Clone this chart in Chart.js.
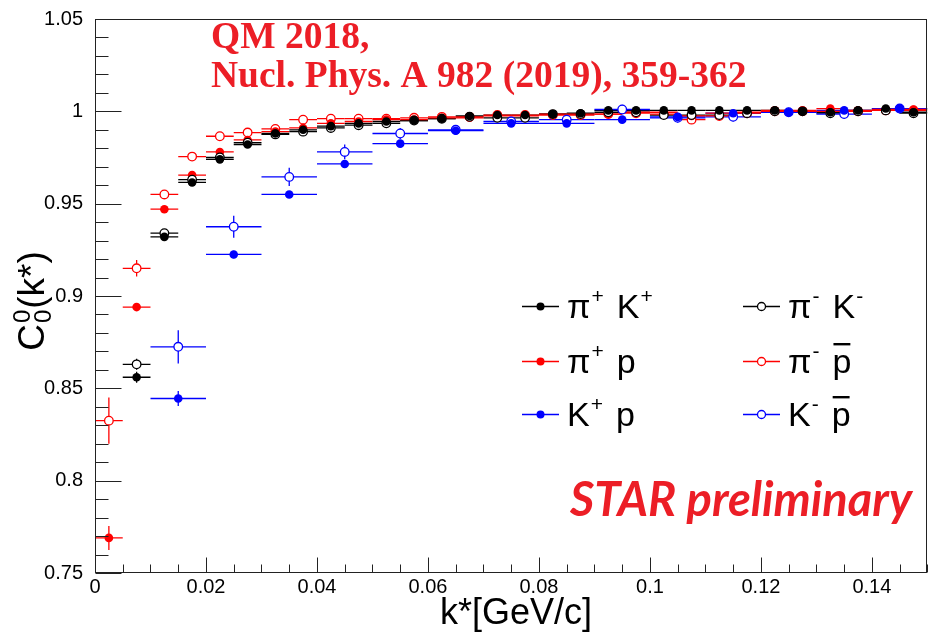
<!DOCTYPE html>
<html>
<head>
<meta charset="utf-8">
<script src="https://cdn.jsdelivr.net/npm/chart.js@4.4.1/dist/chart.umd.min.js"></script>
<style>
  html, body { margin: 0; padding: 0; background: #fff; }
  #wrap { width: 933px; height: 635px; }
</style>
</head>
<body>
<div id="wrap"><canvas id="myChart" width="933" height="635"></canvas></div>
<script>
// k* bin centres (GeV/c): 5 MeV bins for pi-K / pi-p, 10 MeV bins for K-p
const kFine = [0.0025, 0.0075, 0.0125, 0.0175, 0.0225, 0.0275, 0.0325, 0.0375, 0.0425, 0.0475,
               0.0525, 0.0575, 0.0625, 0.0675, 0.0725, 0.0775, 0.0825, 0.0875, 0.0925, 0.0975,
               0.1025, 0.1075, 0.1125, 0.1175, 0.1225, 0.1275, 0.1325, 0.1375, 0.1425, 0.1475];
const kCoarse = [0.015, 0.025, 0.035, 0.045, 0.055, 0.065, 0.075, 0.085, 0.095, 0.105,
                 0.115, 0.125, 0.135, 0.145];

const piPlusKPlus = [null, 0.856, 0.932, 0.9615, 0.974, 0.982, 0.988, 0.990, 0.992, 0.9935,
                     0.9945, 0.995, 0.996, 0.9975, 0.998, 0.998, 0.9985, 0.999, 1.0005, 1.0005,
                     1.0005, 1.0005, 1.0005, 1.0005, 1.0005, 1.000, 0.9995, 1.0005, 1.0015, 0.9995];
const piPlusKPlusErr = [0, 0.003, 0.0015, 0.001, 0.001, 0.001, 0.001, 0.001, 0.001, 0.001,
                        0.001, 0.001, 0.001, 0.001, 0.001, 0.001, 0.001, 0.001, 0.001, 0.001,
                        0.001, 0.001, 0.001, 0.001, 0.001, 0.001, 0.001, 0.001, 0.001, 0.001];

const piMinusKMinus = [null, 0.863, 0.934, 0.963, 0.975, 0.983, 0.9875, 0.989, 0.991, 0.9925,
                       0.9935, 0.995, 0.996, 0.997, 0.9965, 0.9965, 0.9985, 0.9985, 0.9995, 0.9995,
                       0.998, 0.998, 0.998, 0.999, 1.000, 1.000, 0.999, 1.000, 1.0005, 0.999];
const piMinusKMinusErr = [0, 0.003, 0.0015, 0.001, 0.001, 0.001, 0.001, 0.001, 0.001, 0.001,
                          0.001, 0.001, 0.001, 0.001, 0.001, 0.001, 0.001, 0.001, 0.001, 0.001,
                          0.001, 0.001, 0.001, 0.001, 0.001, 0.001, 0.001, 0.001, 0.001, 0.001];

const piPlusP = [0.769, 0.894, 0.947, 0.9655, 0.978, 0.9845, 0.989, 0.991, 0.9935, 0.9945,
                 0.9955, 0.9955, 0.9965, 0.9965, 0.9975, 0.9975, 0.9985, 0.9985, 0.9985, 0.9995,
                 0.9995, 0.9975, 0.999, 0.9995, 1.0005, 1.0005, 1.0015, 1.0005, 1.001, 1.001];
const piPlusPErr = [0.0065, 0.002, 0.0015, 0.001, 0.001, 0.001, 0.001, 0.001, 0.001, 0.001,
                    0.001, 0.001, 0.001, 0.001, 0.001, 0.001, 0.001, 0.001, 0.001, 0.001,
                    0.001, 0.001, 0.001, 0.001, 0.001, 0.001, 0.001, 0.001, 0.001, 0.001];

const piMinusPbar = [0.8325, 0.915, 0.955, 0.9755, 0.9865, 0.9885, 0.9905, 0.9955, 0.996, 0.996,
                     0.996, 0.9965, 0.997, 0.997, 0.998, 0.998, 0.998, 0.998, 0.9985, 0.999,
                     0.9985, 0.9955, 0.9975, 0.999, 1.000, 1.000, 1.000, 1.000, 1.0005, 1.0005];
const piMinusPbarErr = [0.0125, 0.0045, 0.002, 0.0015, 0.0012, 0.001, 0.001, 0.001, 0.001, 0.001,
                        0.001, 0.001, 0.001, 0.001, 0.001, 0.001, 0.001, 0.001, 0.001, 0.001,
                        0.001, 0.001, 0.001, 0.001, 0.001, 0.001, 0.001, 0.001, 0.001, 0.001];

const kPlusP = [0.8445, 0.9225, 0.955, 0.9715, 0.9825, 0.9895, 0.9935, 0.9935, 0.9955, 0.997,
                0.999, 0.9995, 1.0005, 1.0015];
const kPlusPErr = [0.004, 0.002, 0.0015, 0.0012, 0.001, 0.001, 0.001, 0.001, 0.001, 0.001,
                   0.001, 0.001, 0.001, 0.001];

const kMinusPbar = [0.8725, 0.9375, 0.9645, 0.978, 0.988, 0.990, 0.9945, 0.9955, 1.001, 0.9965,
                    0.997, 0.9995, 0.9985, 1.0015];
const kMinusPbarErr = [0.009, 0.006, 0.005, 0.004, 0.003, 0.0025, 0.0025, 0.0025, 0.0025, 0.0025,
                       0.0025, 0.0025, 0.0025, 0.0025];

const xTicks = [0, 0.02, 0.04, 0.06, 0.08, 0.1, 0.12, 0.14];
const yTicks = [0.75, 0.8, 0.85, 0.9, 0.95, 1, 1.05];

const RED = '#ff0000', BLUE = '#0000ff', BLACK = '#000000';
const TEXT_RED = 'rgb(236,30,38)';
const SANS = '"Liberation Sans", Arial, sans-serif';

function makeSet(label, xs, ys, errs, halfWidth, color, open) {
  const pts = [];
  xs.forEach((x, i) => {
    if (ys[i] === null) return;
    pts.push({ x: x, y: ys[i], ex: halfWidth, ey: errs[i] });
  });
  return {
    label: label,
    data: pts,
    showLine: false,
    pointStyle: 'circle',
    pointRadius: 4.3,
    pointBorderWidth: open ? 1.3 : 0,
    borderColor: color,
    pointBorderColor: color,
    pointBackgroundColor: open ? '#ffffff' : color,
    errColor: color
  };
}

const datasets = [
  makeSet('pi+ K+', kFine, piPlusKPlus, piPlusKPlusErr, 0.0025, BLACK, false),
  makeSet('pi- K-', kFine, piMinusKMinus, piMinusKMinusErr, 0.0025, BLACK, true),
  makeSet('K+ p', kCoarse, kPlusP, kPlusPErr, 0.005, BLUE, false),
  makeSet('K- pbar', kCoarse, kMinusPbar, kMinusPbarErr, 0.005, BLUE, true),
  makeSet('pi+ p', kFine, piPlusP, piPlusPErr, 0.0025, RED, false),
  makeSet('pi- pbar', kFine, piMinusPbar, piMinusPbarErr, 0.0025, RED, true)
];

// error bars (bin width in x, stat. error in y), drawn under the markers
const errorBars = {
  id: 'errorBars',
  beforeDatasetsDraw(chart) {
    const ctx = chart.ctx, xs = chart.scales.x, ys = chart.scales.y;
    const area = chart.chartArea;
    ctx.save();
    ctx.beginPath();
    ctx.rect(area.left, area.top, area.right - area.left, area.bottom - area.top);
    ctx.clip();
    ctx.lineWidth = 1.3;
    chart.data.datasets.forEach(ds => {
      ctx.strokeStyle = ds.errColor;
      ds.data.forEach(p => {
        const px = xs.getPixelForValue(p.x), py = ys.getPixelForValue(p.y);
        ctx.beginPath();
        ctx.moveTo(xs.getPixelForValue(p.x - p.ex), py);
        ctx.lineTo(xs.getPixelForValue(p.x + p.ex), py);
        ctx.moveTo(px, ys.getPixelForValue(p.y - p.ey));
        ctx.lineTo(px, ys.getPixelForValue(p.y + p.ey));
        ctx.stroke();
      });
    });
    ctx.restore();
  }
};

// draws a run of [text, superscript] pairs, returns where each text starts
function drawScript(ctx, pairs, x, base) {
  const big = '34px ' + SANS, small = '21px ' + SANS;
  const starts = [];
  pairs.forEach(([t, sup]) => {
    ctx.font = big;
    starts.push(x);
    ctx.fillText(t, x, base);
    x += ctx.measureText(t).width + 1;
    ctx.font = small;
    ctx.fillText(sup, x, base - 15);
    x += ctx.measureText(sup).width + 13;
  });
  return starts;
}

// frame, inward ticks, axis titles, legend and annotations
const decorations = {
  id: 'decorations',
  afterDraw(chart) {
    const ctx = chart.ctx, xs = chart.scales.x, ys = chart.scales.y;
    const a = chart.chartArea;
    const L = Math.round(a.left) + 0.5, R = Math.round(a.right) - 0.5;
    const T = Math.round(a.top) + 0.5, B = Math.round(a.bottom) - 0.5;
    ctx.save();
    ctx.strokeStyle = '#222';
    ctx.lineWidth = 1;
    ctx.strokeRect(L, T, R - L, B - T);

    ctx.beginPath();
    for (let i = 0; i <= 30; i++) {
      const v = 0.75 + i * 0.01;
      const y = Math.round(ys.getPixelForValue(v)) + 0.5;
      const len = (i % 5 === 0) ? 26 : 13;
      ctx.moveTo(L, y); ctx.lineTo(L + len, y);
    }
    for (let i = 0; i <= 30; i++) {
      const v = i * 0.005;
      const x = Math.round(xs.getPixelForValue(v)) + 0.5;
      const len = (i % 4 === 0) ? 15 : 8;
      ctx.moveTo(x, B); ctx.lineTo(x, B - len);
    }
    ctx.stroke();

    // x title
    ctx.fillStyle = '#000';
    ctx.font = '36px ' + SANS;
    ctx.textAlign = 'center';
    ctx.textBaseline = 'alphabetic';
    ctx.fillText('k*[GeV/c]', 516, 624);

    // y title: C_0^0(k*)
    ctx.save();
    ctx.translate(44, 301);
    ctx.rotate(-Math.PI / 2);
    ctx.textAlign = 'left';
    ctx.font = '37px ' + SANS;
    const wC = ctx.measureText('C').width;
    const wRest = ctx.measureText('(k*)').width;
    ctx.font = '24px ' + SANS;
    const w0 = ctx.measureText('0').width;
    const x0 = -(wC + w0 + 2 + wRest) / 2;
    ctx.font = '37px ' + SANS;
    ctx.fillText('C', x0, 0);
    ctx.font = '24px ' + SANS;
    ctx.fillText('0', x0 + wC + 1, -14);
    ctx.fillText('0', x0 + wC + 1, 7);
    ctx.font = '37px ' + SANS;
    ctx.fillText('(k*)', x0 + wC + w0 + 2, 0);
    ctx.restore();

    // legend
    const rows = [
      { x: 522, y: 306, color: BLACK, open: false, pairs: [['π', '+'], ['K', '+']], bar: false },
      { x: 522, y: 361, color: RED, open: false, pairs: [['π', '+'], ['p', '']], bar: false },
      { x: 522, y: 414, color: BLUE, open: false, pairs: [['K', '+'], ['p', '']], bar: false },
      { x: 743, y: 306, color: BLACK, open: true, pairs: [['π', '-'], ['K', '-']], bar: false },
      { x: 743, y: 361, color: RED, open: true, pairs: [['π', '-'], ['p', '']], bar: true },
      { x: 743, y: 414, color: BLUE, open: true, pairs: [['K', '-'], ['p', '']], bar: true }
    ];
    ctx.textAlign = 'left';
    rows.forEach(r => {
      ctx.strokeStyle = r.color;
      ctx.lineWidth = 1.3;
      ctx.beginPath();
      ctx.moveTo(r.x, r.y + 0.5); ctx.lineTo(r.x + 37, r.y + 0.5);
      ctx.stroke();
      ctx.beginPath();
      ctx.arc(r.x + 18.5, r.y + 0.5, 4, 0, Math.PI * 2);
      ctx.fillStyle = r.open ? '#fff' : r.color;
      ctx.fill();
      if (r.open) ctx.stroke();

      ctx.fillStyle = '#000';
      const base = r.y + 12;
      const starts = drawScript(ctx, r.pairs, r.x + 45, base);
      if (r.bar) {
        ctx.font = '34px ' + SANS;
        const wp = ctx.measureText('p').width;
        ctx.fillRect(starts[1] + 1, base - 30, wp - 2, 2.4);
      }
    });

    // reference and preliminary tag
    ctx.fillStyle = TEXT_RED;
    ctx.textAlign = 'left';
    ctx.font = 'bold 37.5px "Liberation Serif", "Times New Roman", serif';
    ctx.fillText('QM 2018,', 211, 48);
    ctx.fillText('Nucl. Phys. A 982 (2019), 359-362', 211, 87);
    ctx.font = 'italic bold 47px Lato, "Open Sans", sans-serif';
    ctx.textAlign = 'right';
    ctx.fillText('STAR preliminary', 912, 516);
    ctx.restore();
  }
};

new Chart('myChart', {
  type: 'scatter',
  data: { datasets: datasets },
  options: {
    responsive: false,
    animation: false,
    events: [],
    layout: { padding: { top: 19, right: 1, left: 0, bottom: 0 } },
    plugins: {
      legend: { display: false },
      tooltip: { enabled: false }
    },
    scales: {
      x: {
        type: 'linear',
        min: 0,
        max: 0.15,
        grid: { display: false, drawTicks: false },
        border: { display: false },
        afterBuildTicks: s => { s.ticks = xTicks.map(v => ({ value: v })); },
        afterFit: s => { s.height = 62; s.paddingLeft = 0; s.paddingRight = 0; },
        ticks: {
          color: '#000',
          padding: 2,
          maxRotation: 0,
          autoSkip: false,
          font: { family: SANS, size: 20 },
          callback: v => String(Number(v.toFixed(2)))
        }
      },
      y: {
        type: 'linear',
        min: 0.75,
        max: 1.05,
        grid: { display: false, drawTicks: false },
        border: { display: false },
        afterBuildTicks: s => { s.ticks = yTicks.map(v => ({ value: v })); },
        afterFit: s => { s.width = 95; s.paddingTop = 0; s.paddingBottom = 0; },
        ticks: {
          color: '#000',
          padding: 12,
          autoSkip: false,
          font: { family: SANS, size: 20 },
          callback: v => String(Number(v.toFixed(2)))
        }
      }
    }
  },
  plugins: [errorBars, decorations]
});
</script>
</body>
</html>
